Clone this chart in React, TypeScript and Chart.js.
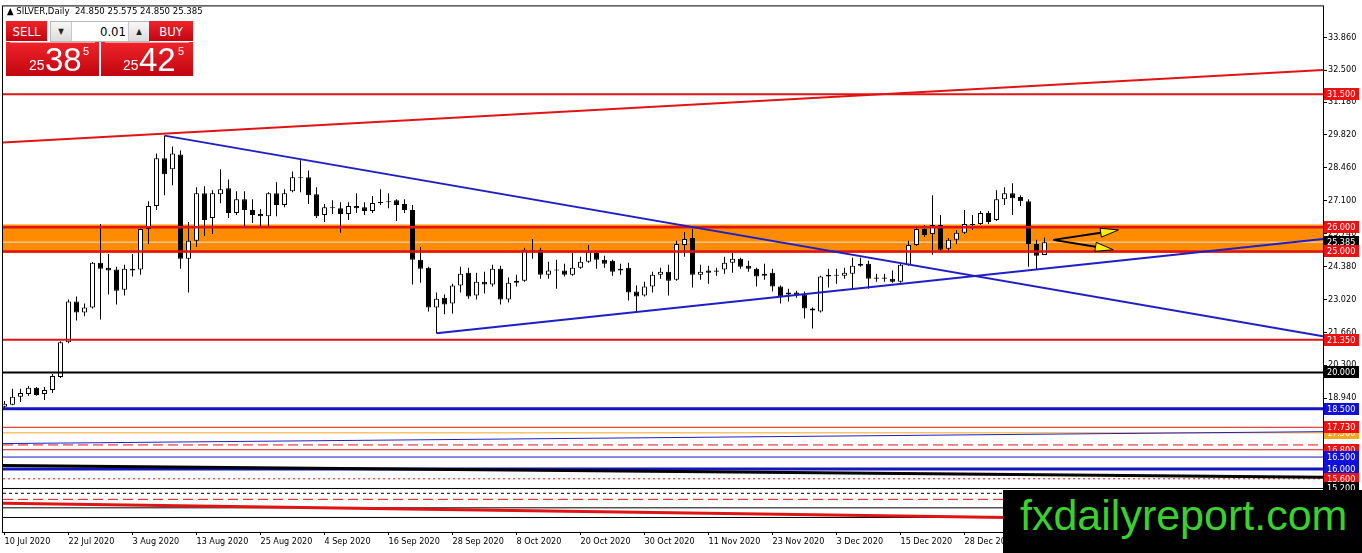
import React, { useEffect, useRef } from "react";
import { Chart, registerables } from "chart.js";

Chart.register(...registerables);

const FONT = "'DejaVu Sans Condensed', 'DejaVu Sans', sans-serif";
const PANEL_FONT = "'Liberation Sans', Arial, sans-serif";
const NARROW_FONT = "'Liberation Sans Narrow', 'DejaVu Sans Condensed', sans-serif";

// ---- SILVER daily candles, 10 Jul 2020 .. 12 Jan 2021 ----
const OPEN = [
  18.58, 18.66, 18.99, 19.11, 19.36, 19.11, 19.27, 19.81, 21.25, 22.93,
  22.48, 22.68, 24.53, 24.33, 24.25, 23.42, 24.29, 24.25, 25.93, 26.88,
  28.85, 28.40, 29.01, 24.70, 25.44, 27.41, 26.38, 27.37, 27.61, 26.59,
  27.16, 26.71, 26.55, 26.46, 27.41, 26.92, 27.49, 28.07, 28.07, 27.37,
  26.51, 26.83, 26.79, 26.55, 26.88, 26.83, 26.67, 27.00, 27.08, 27.12,
  26.96, 26.71, 24.66, 24.33, 22.68, 23.09, 22.85, 23.59, 24.12, 23.18,
  23.75, 23.63, 24.29, 23.01, 23.71, 23.79, 25.07, 25.07, 24.04, 24.25,
  24.21, 24.04, 24.33, 24.57, 24.94, 24.66, 24.62, 24.29, 24.33, 23.34,
  23.18, 23.55, 24.04, 24.16, 23.83, 25.27, 25.56, 24.04, 24.21, 24.16,
  24.25, 24.53, 24.70, 24.41, 24.29, 24.00, 24.12, 23.55, 23.22, 23.30,
  23.22, 22.64, 22.52, 23.96, 24.04, 24.00, 24.08, 24.41, 24.49, 23.87,
  23.92, 23.87, 23.75, 24.45, 25.27, 25.93, 25.72, 26.09, 25.11, 25.48,
  25.77, 26.14, 26.14, 26.59, 26.30, 27.16, 27.41, 27.25, 27.08, 25.31,
  24.85,
];
const HIGH = [
  18.82, 19.32, 19.32, 19.44, 19.40, 19.40, 19.93, 21.29, 23.01, 23.14,
  22.85, 24.56, 26.14, 24.90, 24.37, 24.45, 24.90, 25.95, 27.08, 29.05,
  29.79, 29.34, 29.18, 26.22, 27.66, 27.70, 27.53, 28.40, 27.98, 27.49,
  27.49, 27.16, 26.75, 27.45, 27.86, 27.57, 28.31, 28.77, 28.35, 27.66,
  26.96, 27.12, 27.04, 27.04, 27.41, 27.04, 27.29, 27.57, 27.41, 27.16,
  27.16, 26.92, 25.19, 24.37, 23.30, 23.22, 23.67, 24.37, 24.33, 24.12,
  24.16, 24.45, 24.41, 23.92, 24.04, 25.15, 25.52, 25.15, 24.57, 24.66,
  24.49, 24.94, 24.78, 25.27, 24.99, 24.82, 24.66, 24.49, 24.53, 23.59,
  23.75, 24.16, 24.33, 24.45, 25.44, 25.81, 25.93, 24.45, 24.41, 24.33,
  24.78, 24.94, 24.74, 24.62, 24.33, 24.49, 24.29, 23.59, 23.46, 23.38,
  23.34, 22.68, 24.00, 24.29, 24.29, 24.33, 24.74, 24.74, 24.62, 24.08,
  24.08, 24.21, 24.49, 25.44, 26.01, 26.09, 27.33, 26.51, 25.56, 25.89,
  26.71, 26.51, 26.67, 26.67, 27.53, 27.66, 27.82, 27.33, 27.16, 25.48,
  25.575,
];
const LOW = [
  18.49, 18.64, 18.78, 19.03, 19.03, 18.86, 19.15, 19.77, 21.21, 22.15,
  22.32, 22.64, 22.19, 23.22, 22.81, 23.18, 23.96, 24.04, 25.31, 26.71,
  27.33, 27.74, 24.29, 23.30, 25.19, 25.64, 25.72, 26.99, 26.38, 26.51,
  26.01, 26.18, 26.01, 26.01, 26.46, 26.83, 27.45, 27.45, 26.96, 26.38,
  26.22, 26.55, 25.77, 26.30, 26.59, 26.51, 26.59, 26.92, 26.79, 26.26,
  26.59, 23.63, 23.71, 22.52, 21.62, 22.40, 22.44, 23.30, 23.05, 23.01,
  23.26, 23.55, 22.81, 22.89, 23.55, 23.75, 24.70, 23.87, 23.87, 23.46,
  23.96, 24.00, 24.29, 24.53, 24.29, 24.33, 24.00, 24.04, 22.97, 22.52,
  23.14, 23.30, 23.87, 23.18, 23.79, 24.78, 23.51, 23.83, 23.67, 24.00,
  24.08, 24.12, 24.29, 24.16, 23.55, 23.83, 23.34, 22.85, 22.93, 23.09,
  22.23, 21.82, 22.48, 23.51, 23.67, 23.87, 23.46, 24.37, 23.46, 23.75,
  23.75, 23.71, 23.71, 24.41, 25.23, 25.60, 24.86, 25.03, 25.03, 25.31,
  25.72, 25.89, 26.09, 26.14, 26.26, 26.92, 26.51, 26.88, 24.37, 24.25,
  24.85,
];
const CLOSE = [
  18.70, 18.99, 19.15, 19.36, 19.07, 19.27, 19.85, 21.25, 22.93, 22.48,
  22.68, 24.53, 24.29, 24.21, 23.38, 24.29, 24.21, 25.93, 26.88, 28.85,
  28.19, 29.05, 24.70, 25.44, 27.41, 26.30, 27.41, 27.57, 26.59, 27.16,
  26.71, 26.51, 26.46, 27.41, 26.92, 27.41, 28.07, 28.03, 27.33, 26.46,
  26.83, 26.79, 26.55, 26.88, 26.79, 26.67, 27.00, 27.04, 27.04, 26.92,
  26.71, 24.66, 24.29, 22.68, 23.05, 22.81, 23.59, 24.08, 23.14, 23.75,
  23.63, 24.29, 23.01, 23.71, 23.79, 25.07, 25.03, 24.04, 24.21, 24.21,
  24.04, 24.33, 24.57, 24.99, 24.66, 24.49, 24.16, 24.21, 23.30, 23.14,
  23.55, 24.04, 24.16, 23.79, 25.31, 25.52, 24.04, 24.16, 24.12, 24.21,
  24.53, 24.70, 24.37, 24.29, 23.96, 24.08, 23.55, 23.14, 23.30, 23.18,
  22.64, 22.56, 23.96, 24.04, 24.00, 24.12, 24.41, 24.49, 23.87, 23.92,
  23.87, 23.75, 24.45, 25.27, 25.93, 25.68, 26.09, 25.07, 25.48, 25.77,
  26.14, 26.09, 26.59, 26.22, 27.16, 27.41, 27.20, 27.08, 25.31, 24.82,
  25.385,
];

// x tick labels (bar index -> date label)
const X_TICK_BARS = [0, 8, 16, 24, 32, 40, 48, 56, 64, 72, 80, 88, 96, 104, 112, 120, 128];
const X_TICK_LABELS = [
  "10 Jul 2020", "22 Jul 2020", "3 Aug 2020", "13 Aug 2020", "25 Aug 2020", "4 Sep 2020",
  "16 Sep 2020", "28 Sep 2020", "8 Oct 2020", "20 Oct 2020", "30 Oct 2020", "11 Nov 2020",
  "23 Nov 2020", "3 Dec 2020", "15 Dec 2020", "28 Dec 2020", "8 Jan 2021",
];
const Y_TICKS = [33.86, 32.5, 31.18, 29.82, 28.46, 27.1, 25.74, 24.38, 23.02, 21.66, 20.3, 18.94, 17.58, 16.22, 14.86];

// axis ranges
const X_MIN = -0.1875;
const X_MAX = 164.8125;
const Y_MIN = 13.4;
const Y_MAX = 35.134;

// horizontal levels
const LEVEL_VALUES = [31.5, 26.0, 25.0, 21.35, 20.0, 18.5, 17.73, 17.5, 17.0, 16.8, 16.5, 16.0, 15.6, 15.2, 15.0, 14.75, 14.4, 14.0];
const LEVEL_COLORS = ["#e01414", "#e01414", "#e01414", "#e01414", "#000000", "#1414c0", "#e01414", "#f5a623", "#e01414", "#e01414", "#1414c0", "#1414c0", "#e01414", "#000000", "#000000", "#e01414", "#000000", "#000000"];
const LEVEL_WIDTHS = [2, 2.5, 2.5, 2, 2, 3, 1, 1, 1, 1, 1, 3, 1, 1, 1, 1, 1, 1];
const LEVEL_DASHES = [[], [], [], [], [], [], [], [], [10, 5], [], [], [], [2, 3], [], [3, 3], [10, 5], [], []];

// sloped trendlines (bar index, price)
const TREND_X1 = [X_MIN, 20, 54, X_MIN, X_MIN, X_MIN];
const TREND_Y1 = [29.505, 29.79, 21.62, 17.056, 16.153, 14.592];
const TREND_X2 = [X_MAX, X_MAX, X_MAX, X_MAX, X_MAX, X_MAX];
const TREND_Y2 = [32.504, 21.494, 25.52, 17.549, 15.66, 13.81];
const TREND_COLORS = ["#e01414", "#1f1fc8", "#1f1fc8", "#1f1fc8", "#000000", "#e01414"];
const TREND_WIDTHS = [2, 2, 2, 1, 3, 3];

// supply/demand zone and bid
const ZONE_TOP = 26.12;
const ZONE_BOTTOM = 24.94;
const BID = 25.385;

// right-axis price labels
const PRICE_LABEL_VALUES = [31.5, 26.0, 25.385, 25.0, 21.35, 20.0, 18.5, 17.5, 17.73, 16.8, 16.5, 16.0, 15.6, 15.2];
const PRICE_LABEL_BG = ["#ee1111", "#ee1111", "#000000", "#ee1111", "#ee1111", "#000000", "#1010dd", "#f5a623", "#ee1111", "#ee1111", "#1010dd", "#1010dd", "#ee1111", "#000000"];

// arrows drawn on chart
const ARROW_FROM_X = 131.1;
const ARROW_FROM_Y = 25.48;
const ARROW_TIP_X = [139.25, 138.6];
const ARROW_TIP_Y = [25.89, 25.07];

const framePlugin = {
  id: "frameAndLabels",
  afterDatasetsDraw(chart: any) {
    const { ctx, scales } = chart;
    const xs = scales.x;
    const ys = scales.y;
    const x0 = xs.getPixelForValue(ARROW_FROM_X);
    const y0 = ys.getPixelForValue(ARROW_FROM_Y);
    ctx.save();
    ARROW_TIP_X.forEach((tx: number, k: number) => {
      const x1 = xs.getPixelForValue(tx);
      const y1 = ys.getPixelForValue(ARROW_TIP_Y[k]);
      const ang = Math.atan2(y1 - y0, x1 - x0);
      const c = Math.cos(ang);
      const s = Math.sin(ang);
      const headLen = 18;
      const headW = 4.5;
      const bx = x1 - headLen * c;
      const by = y1 - headLen * s;
      ctx.strokeStyle = "#000";
      ctx.lineWidth = 2;
      ctx.beginPath();
      ctx.moveTo(x0, y0);
      ctx.lineTo(bx, by);
      ctx.stroke();
      ctx.beginPath();
      ctx.moveTo(x1, y1);
      ctx.lineTo(bx - headW * s, by + headW * c);
      ctx.lineTo(bx + headW * s, by - headW * c);
      ctx.closePath();
      ctx.fillStyle = "#ffee00";
      ctx.fill();
      ctx.lineWidth = 1;
      ctx.stroke();
    });
    ctx.restore();
  },
  afterDraw(chart: any) {
    const { ctx, chartArea, scales } = chart;
    const { left, top, right, bottom } = chartArea;
    ctx.save();
    ctx.strokeStyle = "#000";
    ctx.lineWidth = 1;
    ctx.strokeRect(left - 0.5, top - 0.5, right - left + 1, bottom - top + 1);
    ctx.font = `9px ${FONT}`;
    ctx.textBaseline = "middle";
    ctx.textAlign = "left";
    PRICE_LABEL_VALUES.forEach((v: number, k: number) => {
      const py = Math.round(scales.y.getPixelForValue(v));
      ctx.fillStyle = PRICE_LABEL_BG[k];
      ctx.fillRect(right + 1, py - 6, 35, 12);
      ctx.fillStyle = "#ffffff";
      ctx.fillText(v.toFixed(3), right + 4, py + 0.5);
    });
    ctx.restore();
  },
};

function lineDs(x1: number, y1: number, x2: number, y2: number, color: string, width: number, dash: number[], order: number) {
  return {
    type: "line" as const,
    data: [{ x: x1, y: y1 }, { x: x2, y: y2 }],
    borderColor: color,
    borderWidth: width,
    borderDash: dash,
    pointRadius: 0,
    fill: false,
    tension: 0,
    order,
  };
}

export default function App() {
  const ref = useRef<HTMLCanvasElement>(null);

  useEffect(() => {
    document.body.style.margin = "0";
    const canvas = ref.current;
    if (!canvas) return;

    const idx = OPEN.map((_, i) => i);
    const datasets: any[] = [];

    // zone band (fill between two invisible lines)
    datasets.push({
      type: "line",
      data: [{ x: X_MIN, y: ZONE_TOP }, { x: X_MAX, y: ZONE_TOP }],
      borderColor: "rgba(0,0,0,0)",
      borderWidth: 1,
      pointRadius: 0,
      fill: "+1",
      backgroundColor: "#ff8c00",
      order: 100,
    });
    datasets.push({
      type: "line",
      data: [{ x: X_MIN, y: ZONE_BOTTOM }, { x: X_MAX, y: ZONE_BOTTOM }],
      borderColor: "rgba(0,0,0,0)",
      borderWidth: 1,
      pointRadius: 0,
      fill: false,
      order: 99,
    });
    // bid line
    datasets.push(lineDs(X_MIN, BID, X_MAX, BID, "#e6e0d8", 1, [], 95));

    // wicks
    datasets.push({
      type: "bar",
      data: idx.map((i) => ({ x: i, y: [LOW[i], HIGH[i]] })),
      backgroundColor: "#000",
      borderWidth: 0,
      barThickness: 1,
      grouped: false,
      inflateAmount: 0,
      order: 50,
    });
    // bodies
    datasets.push({
      type: "bar",
      data: idx.map((i) => ({ x: i, y: [OPEN[i], CLOSE[i]] })),
      backgroundColor: idx.map((i) => (CLOSE[i] >= OPEN[i] ? "#ffffff" : "#000000")),
      borderColor: "#000",
      borderWidth: 1,
      borderSkipped: false,
      barThickness: 5,
      grouped: false,
      inflateAmount: 0,
      minBarLength: 1,
      order: 40,
    });

    LEVEL_VALUES.forEach((v, k) => {
      datasets.push(lineDs(X_MIN, v, X_MAX, v, LEVEL_COLORS[k], LEVEL_WIDTHS[k], LEVEL_DASHES[k], 10));
    });
    TREND_X1.forEach((x1, k) => {
      datasets.push(lineDs(x1, TREND_Y1[k], TREND_X2[k], TREND_Y2[k], TREND_COLORS[k], TREND_WIDTHS[k], [], 5));
    });

    const chart = new Chart(canvas, {
      type: "bar",
      data: { datasets },
      options: {
        responsive: false,
        animation: false,
        events: [],
        layout: { padding: { left: 3, top: 3, right: 0, bottom: 0 } },
        plugins: { legend: { display: false }, tooltip: { enabled: false } },
        scales: {
          x: {
            type: "linear",
            min: X_MIN,
            max: X_MAX,
            offset: false,
            grid: { display: true, drawOnChartArea: false, drawTicks: true, tickLength: 3, color: "#000", offset: false },
            border: { display: false },
            ticks: {
              autoSkip: false,
              maxRotation: 0,
              minRotation: 0,
              align: "start",
              padding: 1,
              color: "#000",
              font: { family: FONT, size: 9 },
              callback: (v: any) => {
                const k = X_TICK_BARS.indexOf(Number(v));
                return k >= 0 ? X_TICK_LABELS[k] : "";
              },
            },
            afterBuildTicks: (s: any) => {
              s.ticks = X_TICK_BARS.map((v) => ({ value: v }));
            },
            afterFit: (s: any) => {
              s.height = 21;
            },
          },
          y: {
            type: "linear",
            position: "right",
            min: Y_MIN,
            max: Y_MAX,
            grid: { display: true, drawOnChartArea: false, drawTicks: true, tickLength: 4, color: "#000" },
            border: { display: false },
            ticks: {
              padding: 1,
              color: "#000",
              font: { family: FONT, size: 9 },
              callback: (v: any) => Number(v).toFixed(3),
            },
            afterBuildTicks: (s: any) => {
              s.ticks = Y_TICKS.map((v) => ({ value: v }));
            },
            afterFit: (s: any) => {
              s.width = 39;
            },
          },
        },
      } as any,
      plugins: [framePlugin],
    } as any);

    return () => chart.destroy();
  }, []);

  const redGrad = "linear-gradient(#f0242a, #c00510)";
  const grayBtn = "linear-gradient(#f7f7f7, #dcdcdc)";

  return (
    <div style={{ position: "relative", width: 1362, height: 553, background: "#fff", overflow: "hidden" }}>
      <canvas ref={ref} width={1362} height={553} style={{ display: "block", width: 1362, height: 553 }} />

      {/* header */}
      <div style={{ position: "absolute", left: 7, top: 4, font: `9.5px ${FONT}`, color: "#000", whiteSpace: "pre", lineHeight: "14px" }}>
        {"▲ SILVER,Daily  24.850 25.575 24.850 25.385"}
      </div>

      {/* one-click trading panel */}
      <div style={{ position: "absolute", left: 6, top: 21, width: 41, height: 20, background: redGrad, color: "#fff", font: `13px ${NARROW_FONT}`, display: "flex", alignItems: "center", justifyContent: "center" }}>SELL</div>
      <div style={{ position: "absolute", left: 50, top: 21, width: 98, height: 19, border: "1px solid #b8b8b8", background: "#fff" }} />
      <div style={{ position: "absolute", left: 51, top: 22, width: 20, height: 19, background: grayBtn, borderRight: "1px solid #c8c8c8", color: "#222", font: `8px ${FONT}`, display: "flex", alignItems: "center", justifyContent: "center" }}>▼</div>
      <div style={{ position: "absolute", left: 72, top: 22, width: 54, height: 19, color: "#000", font: `13px ${NARROW_FONT}`, display: "flex", alignItems: "center", justifyContent: "flex-end" }}>0.01</div>
      <div style={{ position: "absolute", left: 128, top: 22, width: 20, height: 19, background: grayBtn, borderLeft: "1px solid #c8c8c8", color: "#222", font: `8px ${FONT}`, display: "flex", alignItems: "center", justifyContent: "center" }}>▲</div>
      <div style={{ position: "absolute", left: 149, top: 21, width: 44, height: 20, background: redGrad, color: "#fff", font: `13px ${NARROW_FONT}`, display: "flex", alignItems: "center", justifyContent: "center" }}>BUY</div>

      <div style={{ position: "absolute", left: 6, top: 42, width: 93, height: 34, background: redGrad, color: "#fff", fontFamily: PANEL_FONT }}>
        <div style={{ position: "absolute", left: 4, right: 4, top: 0, height: 1, background: "rgba(255,255,255,0.55)" }} />
        <span style={{ position: "absolute", left: 23, top: 16, fontSize: 14, lineHeight: "14px" }}>25</span>
        <span style={{ position: "absolute", left: 39, top: 1, fontSize: 33, lineHeight: "33px" }}>38</span>
        <span style={{ position: "absolute", left: 77, top: 4, fontSize: 11, lineHeight: "11px" }}>5</span>
      </div>
      <div style={{ position: "absolute", left: 101, top: 42, width: 92, height: 34, background: redGrad, color: "#fff", fontFamily: PANEL_FONT }}>
        <div style={{ position: "absolute", left: 4, right: 4, top: 0, height: 1, background: "rgba(255,255,255,0.55)" }} />
        <span style={{ position: "absolute", left: 22, top: 16, fontSize: 14, lineHeight: "14px" }}>25</span>
        <span style={{ position: "absolute", left: 38, top: 1, fontSize: 33, lineHeight: "33px" }}>42</span>
        <span style={{ position: "absolute", left: 77, top: 4, fontSize: 11, lineHeight: "11px" }}>5</span>
      </div>

      {/* watermark */}
      <div style={{ position: "absolute", left: 1003, top: 490, width: 359, height: 63, background: "#000" }}>
        <span style={{ position: "absolute", left: 17, top: 4, font: `43px ${PANEL_FONT}`, lineHeight: "43px", color: "#3ad12c", whiteSpace: "nowrap" }}>
          fxdailyreport.com
        </span>
      </div>
    </div>
  );
}
